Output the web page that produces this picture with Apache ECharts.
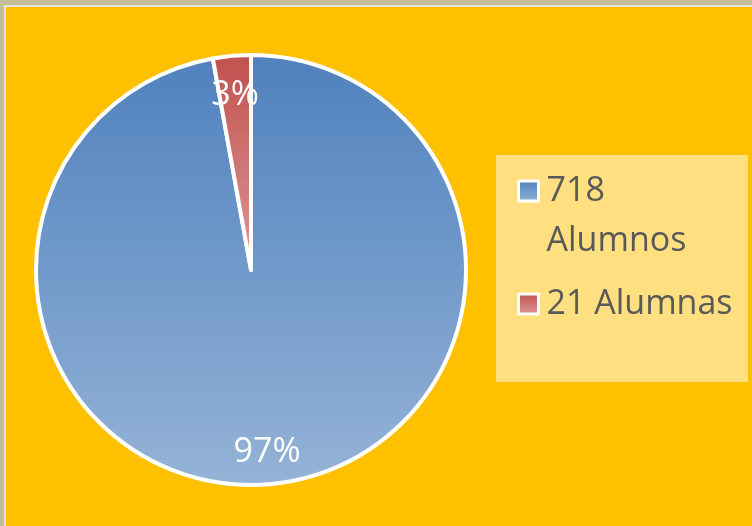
<!DOCTYPE html>
<html>
<head>
<meta charset="utf-8">
<script src="https://cdn.jsdelivr.net/npm/echarts@6/dist/echarts.min.js"></script>
<style>
	html, body { margin: 0; padding: 0; background: #c4bd97; }
	#main {
		position: absolute; left: 4px; top: 5px;
		width: 746px; height: 519px;
		border-left: 2px solid #e3e3e3; border-top: 2px solid #e3e3e3;
	}
</style>
</head>
<body>
<div id="main"></div>
<script>
	var names = ['718\nAlumnos', '21 Alumnas'];
	var values = [718, 21];
	var percents = ['97%', '3%'];
	var topColors = ['#4f81bd', '#c0504d'];
	var bottomColors = ['#95b3d7', '#dc9a98'];

	var myChart = echarts.init(document.getElementById('main'));

	var pieData = names.map(function(n, i) {
		return {
			name: n,
			value: values[i],
			itemStyle: {
				color: new echarts.graphic.LinearGradient(0, 0, 0, 1, [
					{ offset: 0, color: topColors[i] },
					{ offset: 1, color: bottomColors[i] }
				])
			}
		};
	});

	var labelData = names.map(function(n, i) {
		return { name: n, value: values[i], label: { formatter: percents[i] } };
	});

	var option = {
		backgroundColor: '#ffc000',
		graphic: [{
			type: 'rect',
			left: 490, top: 148,
			shape: { width: 252, height: 227 },
			style: { fill: '#ffdf7f' },
			z: -1
		}],
		legend: {
			orient: 'vertical',
			left: 506,
			top: 112,
			itemWidth: 20,
			itemHeight: 20,
			itemGap: 29,
			icon: 'rect',
			itemStyle: { borderColor: '#ffffff', borderWidth: 3 },
			// first line kept empty so the icon sits beside the first line of text
			formatter: function(name) {
				var lines = name.split('\n');
				var txt = lines.map(function(l) { return '{t|' + l + '}'; }).join('\n');
				return lines.length > 1 ? '{e| }\n' + txt : txt;
			},
			textStyle: {
				rich: {
					t: {
						color: '#595959',
						fontFamily: 'Open Sans',
						fontSize: 34,
						lineHeight: 50,
						padding: [0, 0, 0, 3]
					},
					e: { fontSize: 34, lineHeight: 50 }
				}
			},
			data: names
		},
		series: [{
			type: 'pie',
			center: [245, 263],
			radius: 215,
			startAngle: 90,
			clockwise: true,
			label: { show: false },
			labelLine: { show: false },
			emphasis: { disabled: true },
			itemStyle: { borderColor: '#ffffff', borderWidth: 4 },
			data: pieData
		}, {
			// only carries the percent labels
			type: 'pie',
			center: [245, 263],
			radius: [138, 215],
			startAngle: 90,
			clockwise: true,
			silent: true,
			legendHoverLink: false,
			itemStyle: { color: 'rgba(0,0,0,0)' },
			label: {
				show: true,
				position: 'inside',
				color: '#ffffff',
				fontFamily: 'Open Sans',
				fontSize: 34,
				offset: [0, 4]
			},
			labelLine: { show: false },
			emphasis: { disabled: true },
			data: labelData
		}]
	};

	myChart.setOption(option);
</script>
</body>
</html>
